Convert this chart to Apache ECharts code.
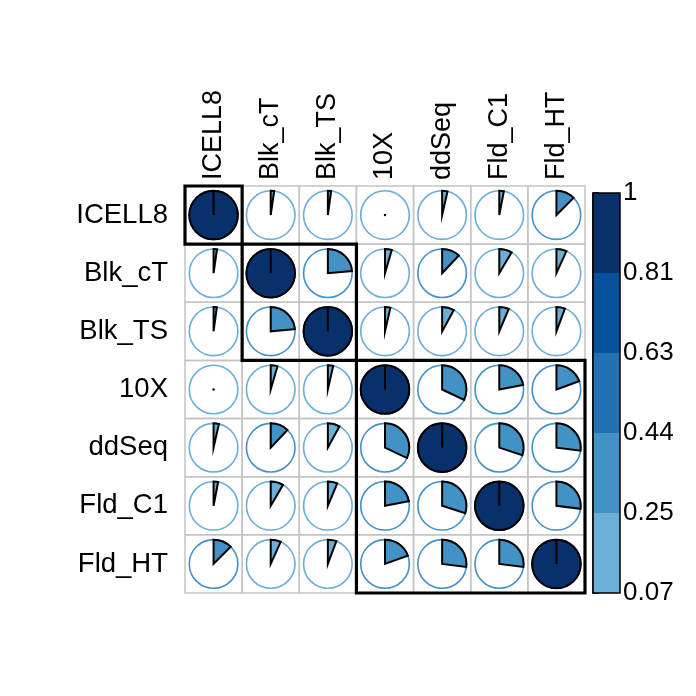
<!DOCTYPE html>
<html>
<head>
<meta charset="utf-8">
<script src="https://cdn.jsdelivr.net/npm/echarts@6/dist/echarts.min.js"></script>
<style>
  html, body { margin: 0; padding: 0; background: #ffffff; }
  #chart { width: 696px; height: 696px; }
</style>
</head>
<body>
<div id="chart"></div>
<script>
// sample names (same order on both axes)
var names = ['ICELL8', 'Blk_cT', 'Blk_TS', '10X', 'ddSeq', 'Fld_C1', 'Fld_HT'];

// matrix rows, values on the 0.07 .. 1 scale of the colour legend
var rowICELL8 = [1, 0.091, 0.090, 0.070, 0.103, 0.098, 0.186];
var rowBlkcT  = [0.091, 1, 0.289, 0.112, 0.182, 0.149, 0.133];
var rowBlkTS  = [0.090, 0.289, 1, 0.103, 0.144, 0.129, 0.123];
var row10X    = [0.070, 0.112, 0.103, 1, 0.368, 0.275, 0.251];
var rowddSeq  = [0.103, 0.182, 0.144, 0.368, 1, 0.349, 0.321];
var rowFldC1  = [0.098, 0.149, 0.129, 0.275, 0.349, 1, 0.321];
var rowFldHT  = [0.186, 0.133, 0.123, 0.251, 0.321, 0.321, 1];

// hclust boxes: first and last index of each group
var clusters = [[0, 0], [1, 2], [3, 6]];

// colour legend
var legendTicks = ['0.07', '0.25', '0.44', '0.63', '0.81', '1'];
var binColors = ['#6BAED6', '#4292C6', '#2171B5', '#08519C', '#08306B'];
// colour classes as they appear on the pies
var colorBreaks = [0.07, 0.16, 0.44, 0.63, 0.81, 1.0001];

var vMin = 0.07, vMax = 1;
var font = "'Liberation Sans', Arial, sans-serif";

function colorOf(v) {
  for (var i = 0; i < binColors.length; i++) {
    if (v < colorBreaks[i + 1]) return binColors[i];
  }
  return binColors[binColors.length - 1];
}

var rows = [rowICELL8, rowBlkcT, rowBlkTS, row10X, rowddSeq, rowFldC1, rowFldHT];
var cells = [];
rows.forEach(function (row, r) {
  row.forEach(function (v, c) {
    cells.push([c, r, v]);
  });
});

var chart = echarts.init(document.getElementById('chart'));

chart.setOption({
  backgroundColor: '#ffffff',
  animation: false,
  grid: [
    { left: 185, top: 186, width: 400, height: 407 },
    { left: 593, top: 193, width: 27, height: 400 }
  ],
  xAxis: [
    {
      gridIndex: 0,
      type: 'category',
      data: names,
      position: 'top',
      axisLine: { show: false },
      axisTick: { show: false },
      splitLine: { show: false },
      axisLabel: { rotate: -90, fontSize: 27, color: '#000', fontFamily: font, margin: 6 }
    },
    { gridIndex: 1, type: 'value', min: 0, max: 1, show: false }
  ],
  yAxis: [
    {
      gridIndex: 0,
      type: 'category',
      data: names,
      inverse: true,
      axisLine: { show: false },
      axisTick: { show: false },
      splitLine: { show: false },
      axisLabel: { fontSize: 27.5, color: '#000', fontFamily: font, margin: 17 }
    },
    {
      gridIndex: 1,
      type: 'value',
      min: 0,
      max: legendTicks.length - 1,
      interval: 1,
      position: 'right',
      axisLine: { show: true, lineStyle: { color: '#000', width: 1.5 } },
      axisTick: { show: true, length: 6, lineStyle: { color: '#000', width: 1.5 } },
      splitLine: { show: false },
      axisLabel: {
        fontSize: 26, color: '#000', fontFamily: font, margin: 3,
        formatter: function (v) { return legendTicks[Math.round(v)]; }
      }
    }
  ],
  series: [
    {
      type: 'custom',
      name: 'pies',
      xAxisIndex: 0,
      yAxisIndex: 0,
      data: cells,
      encode: { x: 0, y: 1 },
      renderItem: function (params, api) {
        var p = api.coord([api.value(0), api.value(1)]);
        var s = api.size([1, 1]);
        var v = api.value(2);
        var f = (v - vMin) / (vMax - vMin);
        var col = colorOf(v);
        var r = Math.min(s[0], s[1]) * 0.425;
        var kids = [
          {
            type: 'rect',
            shape: { x: p[0] - s[0] / 2, y: p[1] - s[1] / 2, width: s[0], height: s[1] },
            style: { fill: 'none', stroke: '#C4C4C4', lineWidth: 1.5 }
          },
          {
            type: 'circle',
            shape: { cx: p[0], cy: p[1], r: r },
            style: { fill: 'none', stroke: col, lineWidth: 1.6 }
          }
        ];
        if (f > 0.999) {
          kids.push({
            type: 'circle',
            shape: { cx: p[0], cy: p[1], r: r },
            style: { fill: col, stroke: '#000', lineWidth: 2 }
          });
          kids.push({
            type: 'line',
            shape: { x1: p[0], y1: p[1], x2: p[0], y2: p[1] - r },
            style: { stroke: '#000', lineWidth: 2 }
          });
        } else if (f > 0.001) {
          kids.push({
            type: 'sector',
            shape: {
              cx: p[0], cy: p[1], r0: 0, r: r,
              startAngle: -Math.PI / 2,
              endAngle: -Math.PI / 2 + 2 * Math.PI * f,
              clockwise: true
            },
            style: { fill: col, stroke: '#000', lineWidth: 2, lineJoin: 'miter' }
          });
        } else {
          kids.push({
            type: 'circle',
            shape: { cx: p[0], cy: p[1], r: 1.2 },
            style: { fill: '#000' }
          });
        }
        return { type: 'group', children: kids };
      },
      z: 2
    },
    {
      type: 'custom',
      name: 'clusters',
      xAxisIndex: 0,
      yAxisIndex: 0,
      data: clusters,
      encode: { x: 0, y: 1 },
      renderItem: function (params, api) {
        var a = api.coord([api.value(0), api.value(0)]);
        var b = api.coord([api.value(1), api.value(1)]);
        var s = api.size([1, 1]);
        return {
          type: 'rect',
          shape: {
            x: a[0] - s[0] / 2, y: a[1] - s[1] / 2,
            width: b[0] - a[0] + s[0], height: b[1] - a[1] + s[1]
          },
          style: { fill: 'none', stroke: '#000', lineWidth: 3.2 }
        };
      },
      z: 5
    },
    {
      type: 'custom',
      name: 'colorbar',
      xAxisIndex: 1,
      yAxisIndex: 1,
      data: binColors.map(function (c, i) { return [0, i]; }),
      encode: { x: 0, y: 1 },
      renderItem: function (params, api) {
        var i = api.value(1);
        var p0 = api.coord([0, i]);
        var p1 = api.coord([1, i + 1]);
        return {
          type: 'rect',
          shape: { x: p0[0], y: p1[1], width: p1[0] - p0[0], height: p0[1] - p1[1] },
          style: { fill: binColors[params.dataIndex] }
        };
      },
      z: 2
    },
    {
      type: 'custom',
      name: 'colorbar frame',
      xAxisIndex: 1,
      yAxisIndex: 1,
      data: [[0, 0]],
      encode: { x: 0, y: 1 },
      renderItem: function (params, api) {
        var p0 = api.coord([0, 0]);
        var p1 = api.coord([1, legendTicks.length - 1]);
        return {
          type: 'rect',
          shape: { x: p0[0], y: p1[1], width: p1[0] - p0[0], height: p0[1] - p1[1] },
          style: { fill: 'none', stroke: '#000', lineWidth: 1.5 }
        };
      },
      z: 3
    }
  ]
});
</script>
</body>
</html>
